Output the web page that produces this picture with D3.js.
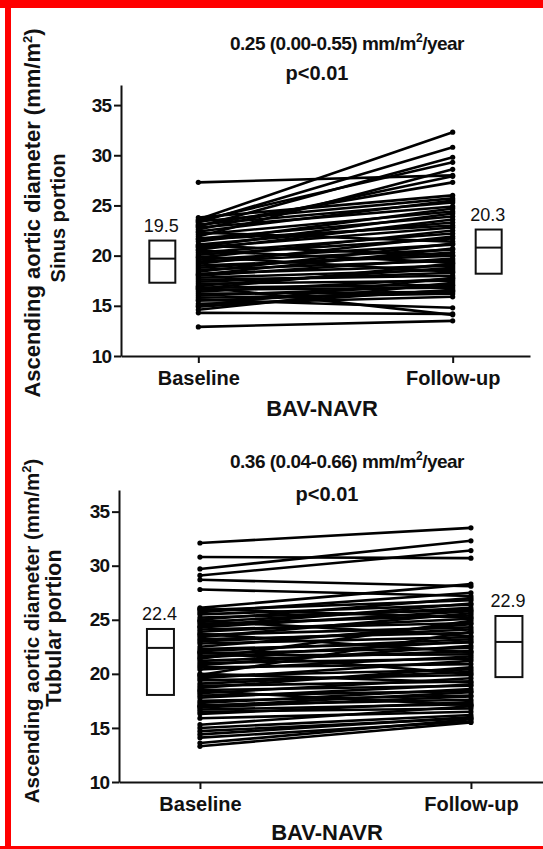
<!DOCTYPE html>
<html>
<head>
<meta charset="utf-8">
<script src="https://cdn.jsdelivr.net/npm/d3@7"></script>
<style>
  html, body { margin: 0; padding: 0; background: #fff; }
  svg { display: block; }
  text { font-family: "Liberation Sans", Arial, sans-serif; fill: #111; }
</style>
</head>
<body>
<svg id="chart" width="543" height="849"></svg>
<script>
// DATA
const groups = ["Baseline", "Follow-up"];
const yTickValues = [10, 15, 20, 25, 30, 35];
const xTitle = "BAV-NAVR";

// sinus portion, one value per patient (mm/m2)
const sinusBaseline = [
  27.3, 23.6, 23.3, 22.9, 23.5, 21.9, 22.6, 23.0, 23.8, 23.4,
  23.1, 22.8, 22.4, 22.1, 21.7, 21.4, 21.1, 20.8, 20.6, 20.3,
  20.1, 19.8, 19.6, 19.4, 19.2, 19.0, 18.8, 18.6, 18.4, 18.2,
  18.0, 17.8, 17.6, 17.4, 17.2, 17.0, 16.8, 16.6, 16.4, 16.2,
  16.0, 15.8, 15.5, 15.2, 14.9, 14.6, 14.3, 15.6, 16.9, 21.0,
  22.3, 20.5, 12.9, 21.6, 19.9, 18.1, 16.7, 15.0, 20.9
];
const sinusFollowup = [
  28.0, 32.3, 30.8, 29.8, 29.3, 28.6, 27.9, 27.3, 26.0, 25.7,
  25.3, 24.9, 25.5, 24.4, 23.9, 24.7, 23.3, 22.8, 23.6, 22.2,
  21.7, 22.5, 21.1, 20.6, 21.9, 20.0, 20.3, 19.5, 21.2, 19.0,
  19.7, 18.6, 18.0, 18.3, 17.5, 18.8, 17.1, 16.8, 17.7, 16.4,
  17.0, 16.2, 16.5, 15.9, 16.6, 17.3, 14.2, 14.8, 14.1, 20.0,
  21.4, 19.3, 13.5, 23.0, 18.4, 20.7, 19.2, 17.8, 24.2
];
const sinusBoxBaseline = [17.3, 19.7, 21.5]; // low, median, high
const sinusBoxFollowup = [18.2, 20.8, 22.6];
const sinusBoxLabels = ["19.5", "20.3"];
const sinusRate = "0.25 (0.00-0.55) mm/m";
const sinusP = "p<0.01";

// tubular portion
const tubularBaseline = [
  32.1, 30.8, 29.7, 29.1, 28.7, 27.8, 26.1, 25.9, 25.7, 25.5,
  25.2, 25.0, 24.8, 24.6, 24.3, 24.1, 23.9, 23.6, 23.4, 23.2,
  23.0, 22.8, 22.5, 22.3, 22.1, 21.9, 21.7, 21.5, 21.2, 21.0,
  20.8, 20.6, 20.4, 19.8, 19.6, 19.4, 19.1, 18.9, 18.7, 18.5,
  18.2, 18.0, 17.8, 17.5, 17.3, 17.1, 16.9, 16.7, 16.5, 16.3,
  15.9, 15.3, 15.0, 14.7, 14.4, 14.1, 13.6, 13.3, 24.9, 22.0,
  20.0, 26.0, 23.7, 17.0, 19.9, 21.4, 24.4, 18.4
];
const tubularFollowup = [
  33.5, 30.7, 32.3, 31.4, 28.1, 27.2, 28.3, 26.8, 27.5, 26.4,
  25.9, 27.0, 26.1, 25.4, 25.8, 24.7, 25.1, 24.3, 25.6, 23.8,
  24.1, 23.4, 24.6, 22.9, 23.2, 22.4, 21.8, 23.0, 22.1, 21.4,
  22.6, 20.9, 21.6, 20.4, 21.2, 19.9, 20.2, 19.3, 20.6, 18.9,
  19.6, 18.4, 19.0, 18.0, 18.6, 17.6, 17.9, 17.2, 16.8, 17.4,
  16.5, 17.0, 16.2, 15.9, 16.0, 15.6, 15.8, 15.5, 23.5, 20.0,
  19.2, 25.2, 22.0, 18.3, 23.9, 24.9, 26.5, 17.1
];
const tubularBoxBaseline = [18.05, 22.4, 24.15];
const tubularBoxFollowup = [19.7, 22.95, 25.35];
const tubularBoxLabels = ["22.4", "22.9"];
const tubularRate = "0.36 (0.04-0.66) mm/m";
const tubularP = "p<0.01";

var svg = d3.select("#chart");

function drawPanel(cfg) {
  var y = d3.scaleLinear().domain([10, 37]).range([cfg.yBottom, cfg.yTop]);
  var x = d3
    .scalePoint()
    .domain(groups)
    .range([cfg.xLeft, cfg.xRight])
    .padding(cfg.pad)
    .align(cfg.align);

  var g = svg.append("g");

  // TITLE
  var t = g
    .append("text")
    .attr("x", cfg.titleX)
    .attr("y", cfg.titleY)
    .attr("text-anchor", "middle")
    .style("font-size", "19px")
    .style("font-weight", "bold")
    .style("letter-spacing", "-0.5px");
  t.append("tspan").text(cfg.rate);
  t.append("tspan").attr("dy", -8).style("font-size", "12px").text("2");
  t.append("tspan").attr("dy", 8).text("/year");

  g.append("text")
    .attr("x", cfg.pX)
    .attr("y", cfg.pY)
    .attr("text-anchor", "middle")
    .style("font-size", "20px")
    .style("font-weight", "bold")
    .text(cfg.p);

  // Y AXIS
  var yAxis = g
    .append("g")
    .attr("transform", `translate(${cfg.xLeft}, 0)`)
    .call(d3.axisLeft(y).tickValues(yTickValues).tickSize(7).tickSizeOuter(0).tickPadding(3));
  yAxis.selectAll("path, line").attr("stroke", "#111").attr("stroke-width", 2);
  yAxis
    .selectAll("text")
    .style("font-size", "19px")
    .style("font-weight", "bold")
    .style("letter-spacing", "-1px")
    .attr("fill", "#111");

  // X AXIS
  var xAxis = g
    .append("g")
    .attr("transform", `translate(0, ${cfg.yBottom})`)
    .call(d3.axisBottom(x).tickSize(7).tickSizeOuter(0).tickPadding(8));
  xAxis.selectAll("path, line").attr("stroke", "#111").attr("stroke-width", 2);
  xAxis
    .selectAll("text")
    .style("font-size", "20px")
    .style("font-weight", "bold")
    .attr("fill", "#111");

  g.append("text")
    .attr("x", cfg.xTitleX)
    .attr("y", cfg.xTitleY)
    .attr("text-anchor", "middle")
    .style("font-size", "22px")
    .style("font-weight", "bold")
    .text(xTitle);

  // Y TITLE (two lines)
  var yt = g
    .append("text")
    .attr("transform", `translate(${cfg.yTitleX1}, ${cfg.yTitleY1}) rotate(-90)`)
    .attr("text-anchor", "middle")
    .style("font-size", cfg.yTitleSize1 + "px")
    .style("font-weight", "bold");
  yt.append("tspan").text("Ascending aortic diameter (mm/m");
  yt.append("tspan").attr("dy", -8).style("font-size", "13px").text("2");
  yt.append("tspan").attr("dy", 8).text(")");

  g.append("text")
    .attr("transform", `translate(${cfg.yTitleX2}, ${cfg.yTitleY2}) rotate(-90)`)
    .attr("text-anchor", "middle")
    .style("font-size", cfg.yTitleSize2 + "px")
    .style("font-weight", "bold")
    .text(cfg.portion);

  // PAIRED LINES
  var pairs = cfg.baseline.map(function (b, i) {
    return [
      { group: groups[0], value: b },
      { group: groups[1], value: cfg.followup[i] },
    ];
  });

  var line = d3
    .line()
    .x(function (d) {
      return x(d.group);
    })
    .y(function (d) {
      return y(d.value);
    });

  g.append("g")
    .selectAll("path")
    .data(pairs)
    .enter()
    .append("path")
    .attr("d", line)
    .attr("fill", "none")
    .attr("stroke", "#000")
    .attr("stroke-width", 2.6);

  g.append("g")
    .selectAll("circle")
    .data(pairs.flat())
    .enter()
    .append("circle")
    .attr("cx", function (d) {
      return x(d.group);
    })
    .attr("cy", function (d) {
      return y(d.value);
    })
    .attr("r", 2.6)
    .attr("fill", "#000");

  // BOXES
  var boxes = [
    { group: groups[0], v: cfg.boxBaseline, label: cfg.boxLabels[0], off: -cfg.boxOffset[0] },
    { group: groups[1], v: cfg.boxFollowup, label: cfg.boxLabels[1], off: cfg.boxOffset[1] },
  ];
  var bw = cfg.boxWidth;

  var bg = g
    .selectAll(".box")
    .data(boxes)
    .enter()
    .append("g")
    .attr("class", "box");

  bg.append("rect")
    .attr("x", function (d) {
      return x(d.group) + d.off - bw / 2;
    })
    .attr("y", function (d) {
      return y(d.v[2]);
    })
    .attr("width", bw)
    .attr("height", function (d) {
      return y(d.v[0]) - y(d.v[2]);
    })
    .attr("fill", "#fff")
    .attr("stroke", "#111")
    .attr("stroke-width", 2);

  bg.append("line")
    .attr("x1", function (d) {
      return x(d.group) + d.off - bw / 2;
    })
    .attr("x2", function (d) {
      return x(d.group) + d.off + bw / 2;
    })
    .attr("y1", function (d) {
      return y(d.v[1]);
    })
    .attr("y2", function (d) {
      return y(d.v[1]);
    })
    .attr("stroke", "#111")
    .attr("stroke-width", 2);

  bg.append("text")
    .attr("x", function (d) {
      return x(d.group) + d.off - 1;
    })
    .attr("y", function (d) {
      return y(d.v[2]) - 9;
    })
    .attr("text-anchor", "middle")
    .style("font-size", "18px")
    .text(function (d) {
      return d.label;
    });
}

drawPanel({
  yTop: 85, yBottom: 356, xLeft: 121, xRight: 530, pad: 0.304, align: 0.5,
  baseline: sinusBaseline, followup: sinusFollowup,
  boxBaseline: sinusBoxBaseline, boxFollowup: sinusBoxFollowup, boxLabels: sinusBoxLabels,
  boxOffset: [36, 36], boxWidth: 26,
  rate: sinusRate, p: sinusP, titleX: 347, titleY: 50, pX: 317, pY: 80,
  xTitleX: 322, xTitleY: 416,
  portion: "Sinus portion", yTitleSize1: 22, yTitleSize2: 20,
  yTitleX1: 40, yTitleY1: 213, yTitleX2: 65, yTitleY2: 218,
});

drawPanel({
  yTop: 490, yBottom: 782, xLeft: 119, xRight: 543, pad: 0.2823, align: 0.529,
  baseline: tubularBaseline, followup: tubularFollowup,
  boxBaseline: tubularBoxBaseline, boxFollowup: tubularBoxFollowup, boxLabels: tubularBoxLabels,
  boxOffset: [39.5, 38], boxWidth: 27,
  rate: tubularRate, p: tubularP, titleX: 347, titleY: 468, pX: 327, pY: 501,
  xTitleX: 327, xTitleY: 840,
  portion: "Tubular portion", yTitleSize1: 20.5, yTitleSize2: 21.5,
  yTitleX1: 39, yTitleY1: 631, yTitleX2: 61, yTitleY2: 628,
});

// RED FRAME
svg.append("rect").attr("x", 0).attr("y", 0).attr("width", 543).attr("height", 8).attr("fill", "#f00");
svg.append("rect").attr("x", 5).attr("y", 0).attr("width", 6).attr("height", 849).attr("fill", "#f00");
svg.append("rect").attr("x", 0).attr("y", 846).attr("width", 543).attr("height", 3).attr("fill", "#f00");
</script>
</body>
</html>
